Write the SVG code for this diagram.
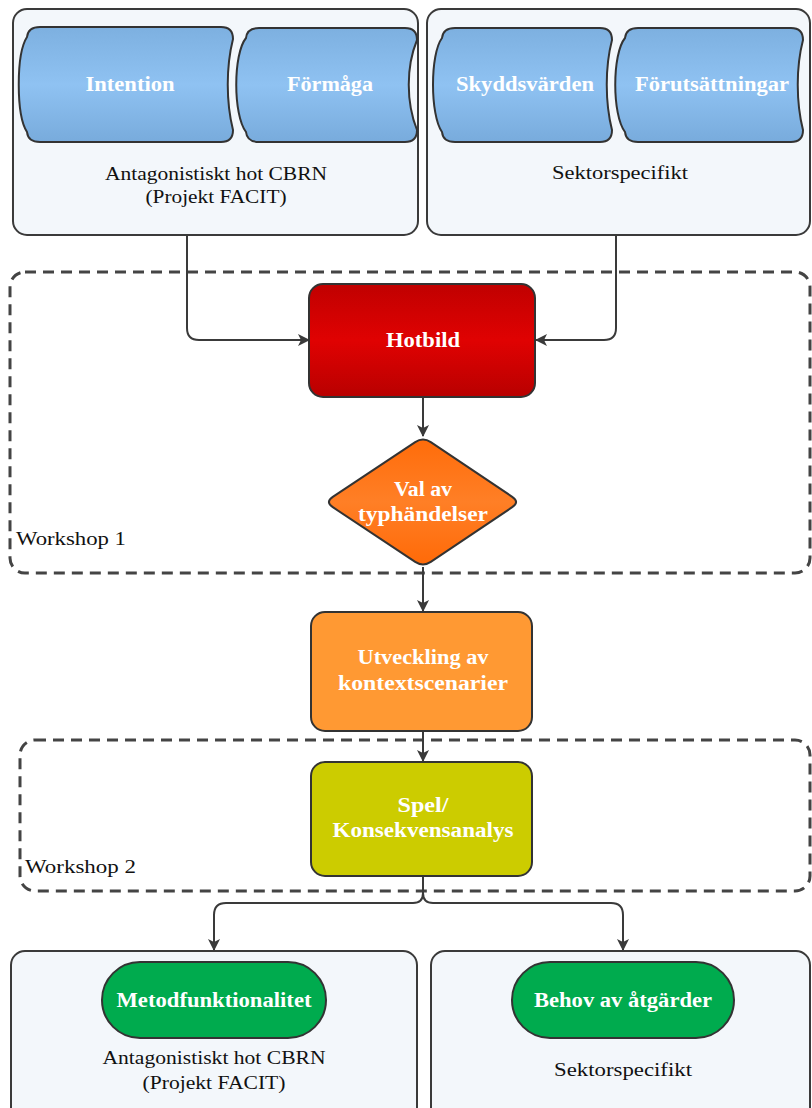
<svg xmlns="http://www.w3.org/2000/svg" width="812" height="1108" viewBox="0 0 812 1108">
<style>
.cont{fill:#f3f7fb;stroke:#3a3a3a;stroke-width:2}
.node{stroke:#333;stroke-width:2}
.ws{fill:none;stroke:#444;stroke-width:3;stroke-dasharray:11 7}
.lbl{font-family:"Liberation Serif",serif;font-weight:bold;fill:#fff;font-size:20px;text-anchor:middle}
.txt{font-family:"Liberation Serif",serif;fill:#111;font-size:19px;text-anchor:middle}
.wst{font-family:"Liberation Serif",serif;fill:#111;font-size:19px}
.conn{fill:none;stroke:#3a3a3a;stroke-width:2}
</style>
<defs>
<linearGradient id="gBlue" x1="0" y1="0" x2="0" y2="1"><stop offset="0" stop-color="#7db0e0"/><stop offset="0.5" stop-color="#8fc2f2"/><stop offset="1" stop-color="#78abdc"/></linearGradient>
<linearGradient id="gRed" x1="0" y1="0" x2="0" y2="1"><stop offset="0" stop-color="#c00000"/><stop offset="0.5" stop-color="#e00202"/><stop offset="1" stop-color="#b80000"/></linearGradient>
<linearGradient id="gOr" x1="0" y1="0" x2="0" y2="1"><stop offset="0" stop-color="#ff6c0a"/><stop offset="0.5" stop-color="#ff7f26"/><stop offset="1" stop-color="#ff6a08"/></linearGradient>
<marker id="arr" markerUnits="userSpaceOnUse" markerWidth="12" markerHeight="12" refX="11" refY="6" orient="auto"><path d="M0,0 L12,6 L0,12 L3,6 z" fill="#3a3a3a"/></marker>
</defs>

<g id="container-left-top">
<rect class="cont" x="13" y="9" width="405" height="226" rx="14"/>
<text class="txt" x="216" y="180" textLength="222" lengthAdjust="spacingAndGlyphs">Antagonistiskt hot CBRN</text>
<text class="txt" x="216" y="203" textLength="141" lengthAdjust="spacingAndGlyphs">(Projekt FACIT)</text>
</g>
<g id="container-right-top">
<rect class="cont" x="427" y="9" width="383" height="226" rx="14"/>
<text class="txt" x="620" y="179" textLength="136" lengthAdjust="spacingAndGlyphs">Sektorspecifikt</text>
</g>

<g id="intention">
<path class="node" fill="url(#gBlue)" d="M40,27 H221 Q233,27 233,39 C226,67 226,102 233,130 Q233,142 221,142 H40 Q28,142 27,132 C16,115 16,54 27,37 Q28,27 40,27 Z"/>
<text class="lbl" x="130" y="91" textLength="89" lengthAdjust="spacingAndGlyphs">Intention</text>
</g>
<g id="formaga">
<path class="node" fill="url(#gBlue)" d="M259,28 H405 Q417,28 417,40 C406,67 406,102 417,130 Q417,142 405,142 H259 Q247,142 246,132 C233,115 233,54 246,38 Q247,28 259,28 Z"/>
<text class="lbl" x="330" y="91" textLength="86" lengthAdjust="spacingAndGlyphs">Förmåga</text>
</g>
<g id="skyddsvarden">
<path class="node" fill="url(#gBlue)" d="M455,28 H600 Q612,28 612,40 C605,67 605,102 612,130 Q612,142 600,142 H455 Q443,142 442,132 C430,115 430,54 442,38 Q443,28 455,28 Z"/>
<text class="lbl" x="525" y="91" textLength="138" lengthAdjust="spacingAndGlyphs">Skyddsvärden</text>
</g>
<g id="forutsattningar">
<path class="node" fill="url(#gBlue)" d="M638,28 H791 Q803,28 803,40 C796,67 796,102 803,130 Q803,142 791,142 H638 Q626,142 625,132 C612,115 612,54 625,38 Q626,28 638,28 Z"/>
<text class="lbl" x="712" y="91" textLength="154" lengthAdjust="spacingAndGlyphs">Förutsättningar</text>
</g>

<g id="workshop1">
<rect class="ws" x="10" y="272" width="800" height="301" rx="15"/>
<text class="wst" x="16" y="545" textLength="110" lengthAdjust="spacingAndGlyphs">Workshop 1</text>
</g>
<g id="workshop2">
<rect class="ws" x="20" y="740" width="790" height="151" rx="15"/>
<text class="wst" x="25" y="873" textLength="111" lengthAdjust="spacingAndGlyphs">Workshop 2</text>
</g>

<g id="connectors">
<path class="conn" marker-end="url(#arr)" d="M187,235 V328 Q187,340 199,340 H309"/>
<path class="conn" marker-end="url(#arr)" d="M616,235 V328 Q616,340 604,340 H536"/>
<path class="conn" marker-end="url(#arr)" d="M423,397 V436"/>
<path class="conn" marker-end="url(#arr)" d="M423,567 V611"/>
<path class="conn" marker-end="url(#arr)" d="M423,731 V761"/>
<path class="conn" marker-end="url(#arr)" d="M423,876 V893 Q423,903 413,903 H226 Q214,903 214,915 V950"/>
<path class="conn" marker-end="url(#arr)" d="M423,893 Q423,903 433,903 H611 Q623,903 623,915 V950"/>
</g>

<g id="hotbild">
<rect class="node" fill="url(#gRed)" x="309" y="284" width="226" height="113" rx="14"/>
<text class="lbl" x="423" y="347" textLength="74" lengthAdjust="spacingAndGlyphs">Hotbild</text>
</g>
<g id="val-av-typhandelser">
<path class="node" fill="url(#gOr)" d="M430.8,442.2 L512.2,496.8 Q520,502 512.2,507.2 L430.8,561.8 Q423,567 415.2,561.8 L332.8,507.2 Q325,502 332.8,496.8 L415.2,442.2 Q423,437 430.8,442.2 Z"/>
<text class="lbl" x="423" y="496" textLength="58" lengthAdjust="spacingAndGlyphs">Val av</text>
<text class="lbl" x="423" y="521" textLength="130" lengthAdjust="spacingAndGlyphs">typhändelser</text>
</g>
<g id="utveckling">
<rect class="node" fill="#ff9933" x="311" y="612" width="221" height="119" rx="14"/>
<text class="lbl" x="423" y="664" textLength="131" lengthAdjust="spacingAndGlyphs">Utveckling av</text>
<text class="lbl" x="423" y="690" textLength="170" lengthAdjust="spacingAndGlyphs">kontextscenarier</text>
</g>
<g id="spel">
<rect class="node" fill="#cccc00" x="311" y="762" width="221" height="114" rx="14"/>
<text class="lbl" x="423" y="812" textLength="51" lengthAdjust="spacingAndGlyphs">Spel/</text>
<text class="lbl" x="423" y="837" textLength="181" lengthAdjust="spacingAndGlyphs">Konsekvensanalys</text>
</g>

<g id="container-left-bottom">
<rect class="cont" x="11" y="951" width="406" height="170" rx="14"/>
<text class="txt" x="214" y="1064" textLength="223" lengthAdjust="spacingAndGlyphs">Antagonistiskt hot CBRN</text>
<text class="txt" x="214" y="1089" textLength="143" lengthAdjust="spacingAndGlyphs">(Projekt FACIT)</text>
</g>
<g id="container-right-bottom">
<rect class="cont" x="431" y="951" width="379" height="170" rx="14"/>
<text class="txt" x="623" y="1076" textLength="138" lengthAdjust="spacingAndGlyphs">Sektorspecifikt</text>
</g>
<g id="metodfunktionalitet">
<rect class="node" fill="#00ab4e" x="102" y="962" width="224" height="76" rx="38"/>
<text class="lbl" x="214" y="1007" textLength="195" lengthAdjust="spacingAndGlyphs">Metodfunktionalitet</text>
</g>
<g id="behov">
<rect class="node" fill="#00ab4e" x="512" y="962" width="222" height="76" rx="38"/>
<text class="lbl" x="623" y="1007" textLength="178" lengthAdjust="spacingAndGlyphs">Behov av åtgärder</text>
</g>
</svg>
